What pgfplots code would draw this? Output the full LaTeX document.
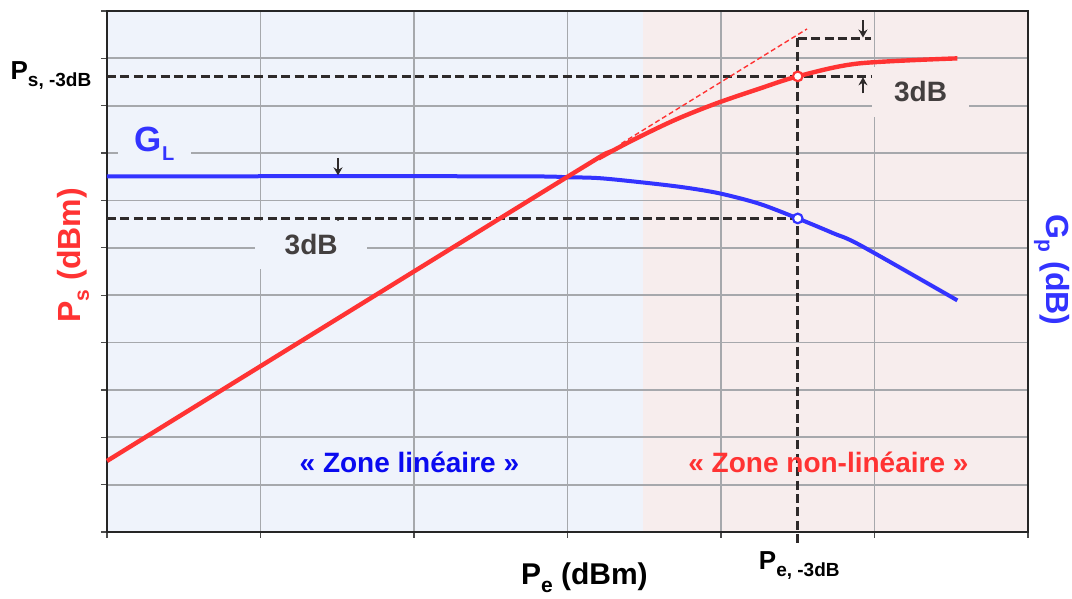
\documentclass[border=0pt]{standalone}
\usepackage{fontspec}
\setmainfont{Liberation Sans}
\usepackage{pgfplots}
\pgfplotsset{compat=1.18}
\usetikzlibrary{arrows.meta}
\definecolor{bgblue}{HTML}{EFF3FB}
\definecolor{bgpink}{HTML}{F7EDED}
\definecolor{gridc}{HTML}{A6A8AC}
\definecolor{redline}{HTML}{FF3333}
\definecolor{blueline}{HTML}{3333FF}
\definecolor{zoneblue}{HTML}{0A0AF0}
\definecolor{darkdash}{HTML}{2E2A2A}
\newcommand{\sub}[2][9]{\raisebox{-0.5ex}{\fontsize{#1}{#1}\selectfont #2}}
\tikzset{dim/.style={darkdash, line width=1.5pt, dash pattern=on 4.5pt off 2.2pt},
  tip/.style={-{Stealth[length=4pt,width=4.5pt]}, darkdash, line width=0.7pt}}

\begin{document}
\begin{tikzpicture}
% zones (axis box is 460.5pt x 260.5pt, x=3.49 of 6)
\fill[bgblue] (0,0) rectangle (267.9pt,260.5pt);
\fill[bgpink] (267.9pt,0) rectangle (460.5pt,260.5pt);
\begin{axis}[
  at={(0,0)}, anchor=south west,
  scale only axis, width=460.5pt, height=260.5pt,
  xmin=0, xmax=6, ymin=0, ymax=11,
  xtick={0,...,6}, ytick={0,...,11},
  xticklabels={}, yticklabels={},
  xtick pos=left, ytick pos=left,
  tick align=outside, major tick length=3pt,
  tick style={black!70, line width=0.6pt},
  grid=major,
  major grid style={draw=gridc, line width=0.9pt},
  axis line style={draw=black!85, line width=0.9pt},
  clip=false,
  font=\bfseries,
]
% dashed construction lines
\addplot[dim] coordinates {(0,9.62) (4.98,9.62)};
\addplot[dim] coordinates {(4.50,10.42) (4.98,10.42)};
\addplot[dim] coordinates {(0,6.62) (4.50,6.62)};
\addplot[dim] coordinates {(4.50,10.42) (4.50,-0.23)};

% ideal linear extension
\addplot[redline, line width=0.7pt, dash pattern=on 2.5pt off 1.5pt] coordinates {(3.35,8.20) (4.56,10.62)};

% G_p
\addplot[blueline, line width=2pt, smooth] coordinates {
  (0,7.51) (2.6,7.51) (3.0,7.49) (3.21,7.47) (3.49,7.38) (3.75,7.28) (3.99,7.15)
  (4.25,6.93) (4.50,6.62) (4.73,6.31) (4.91,6.05) (5.54,4.89)};
% P_s
\addplot[redline, line width=2.2pt, smooth] coordinates {
  (0,1.50) (3.0,7.50) (3.21,7.90) (3.43,8.28) (3.70,8.70)
  (3.97,9.05) (4.25,9.36) (4.50,9.62) (4.89,9.89) (5.54,10.0)};

% -3 dB points
\addplot[only marks, mark=*, mark size=2.4pt, mark options={fill=white, draw=redline, line width=1.1pt}] coordinates {(4.50,9.62)};
\addplot[only marks, mark=*, mark size=2.4pt, mark options={fill=white, draw=blueline, line width=1.1pt}] coordinates {(4.50,6.62)};

% arrows
\draw[tip] (axis cs:1.505,7.90) -- (axis cs:1.505,7.53);
\draw[tip] (axis cs:1.505,6.30) -- (axis cs:1.505,6.60);
\draw[tip] (axis cs:4.925,10.80) -- (axis cs:4.925,10.44);
\draw[tip] (axis cs:4.925,9.26) -- (axis cs:4.925,9.60);

% labels with boxes
\node[fill=bgblue, minimum width=56pt, minimum height=24pt, inner sep=0pt,
  text=darkdash!90, font=\fontsize{14}{14}\bfseries\selectfont] at (axis cs:1.33,6.06) {3dB};
\node[fill=bgpink, minimum width=48.5pt, minimum height=25pt, inner sep=0pt,
  text=darkdash!90, font=\fontsize{14}{14}\bfseries\selectfont] at (axis cs:5.30,9.30) {3dB};
\node[fill=bgblue, minimum width=36.5pt, minimum height=20pt, inner sep=0pt,
  text=blueline, font=\fontsize{17.5}{17.5}\bfseries\selectfont] at (axis cs:0.31,8.2) {G\sub[10]{L}};

\node[text=zoneblue, font=\fontsize{14}{14}\bfseries\selectfont] at (axis cs:1.97,1.46) {« Zone linéaire »};
\node[text=redline, font=\fontsize{14}{14}\bfseries\selectfont] at (axis cs:4.70,1.46) {« Zone non-linéaire »};

% axis titles
\node[font=\fontsize{13}{13}\bfseries\selectfont] at (axis cs:-0.365,9.64) {P\sub[9.5]{s, -3dB}};
\node[rotate=90, text=redline, font=\fontsize{16}{16}\bfseries\selectfont] at (axis cs:-0.22,5.84) {P\sub[10.5]{s} (dBm)};
\node[rotate=-90, text=blueline, font=\fontsize{16}{16}\bfseries\selectfont] at (axis cs:6.156,5.53) {G\sub[10.5]{p} (dB)};
\node[font=\fontsize{15}{15}\bfseries\selectfont] at (axis cs:3.11,-0.97) {P\sub[10.5]{e} (dBm)};
\node[font=\fontsize{13}{13}\bfseries\selectfont] at (axis cs:4.51,-0.70) {P\sub[9.5]{e, -3dB}};
\end{axis}
\pgfresetboundingbox
\path (-53.5pt,-33.5pt) rectangle (482.5pt,266pt);
\end{tikzpicture}
\end{document}
